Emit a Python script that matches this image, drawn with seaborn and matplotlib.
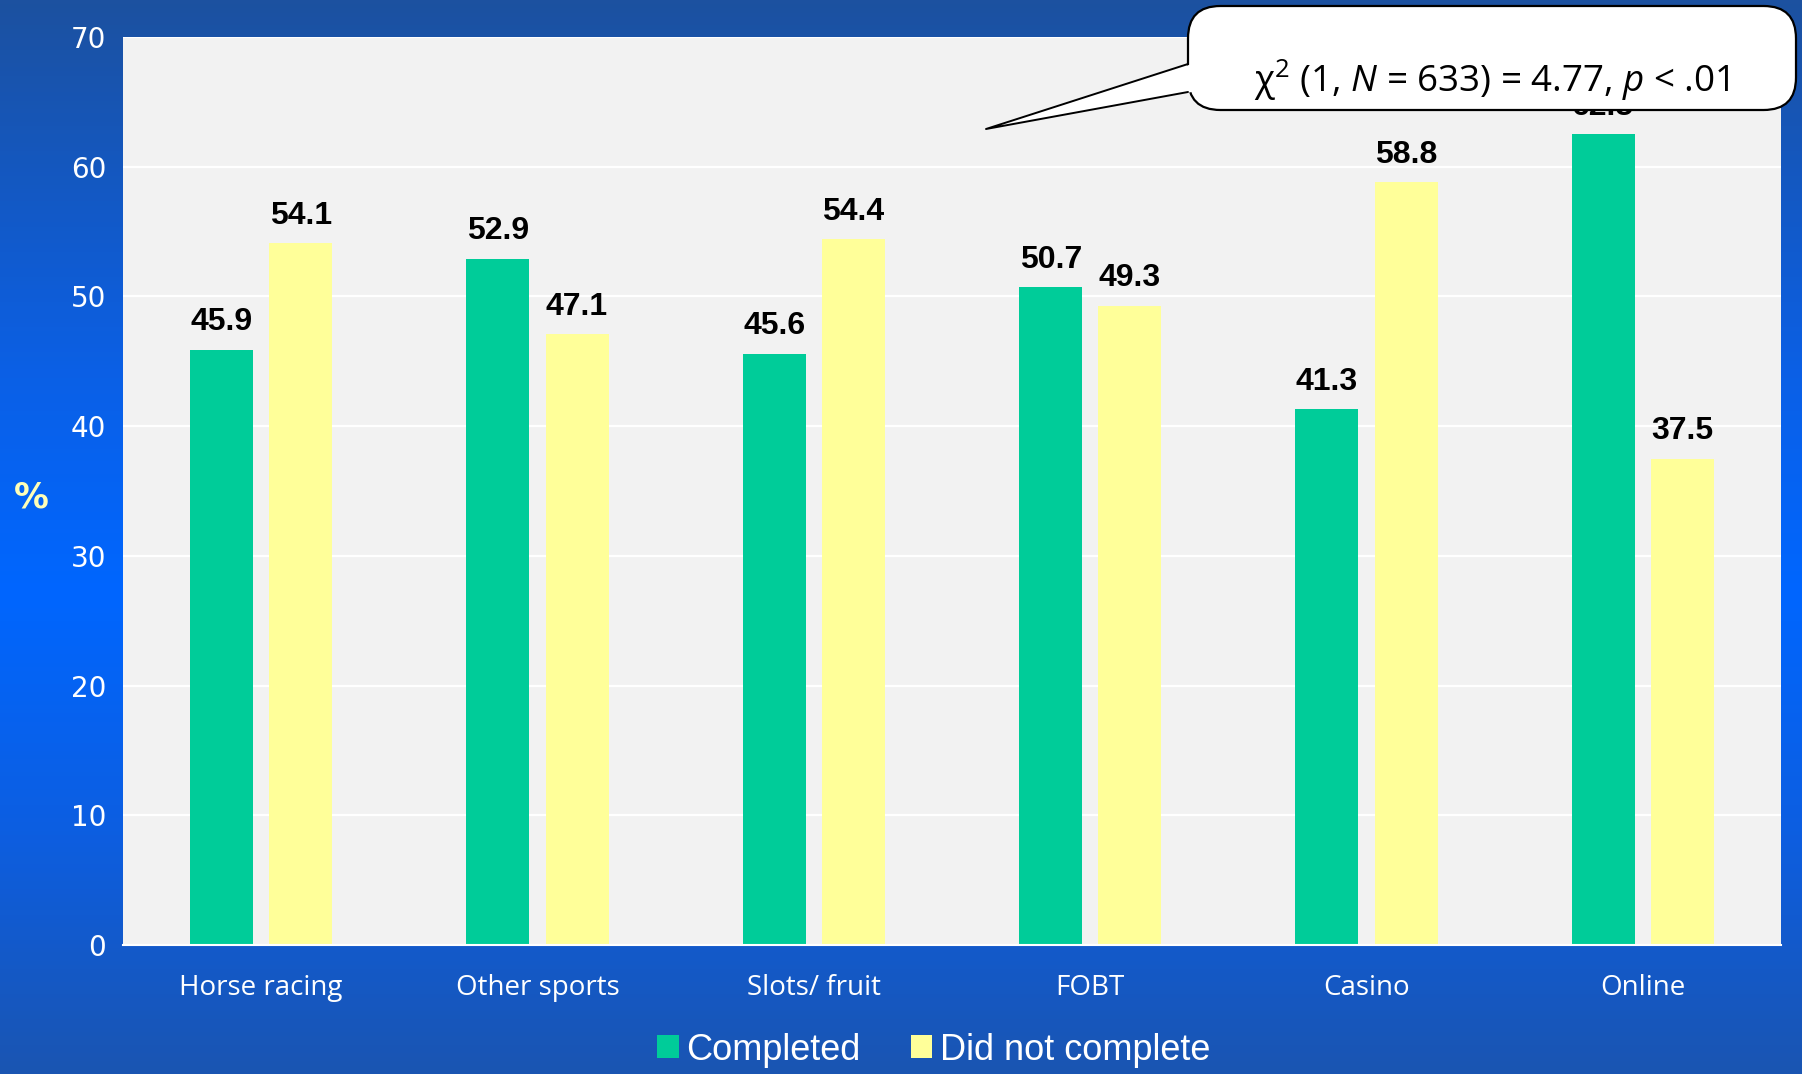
import numpy as np
import pandas as pd
import matplotlib
matplotlib.use("Agg")
import matplotlib.pyplot as plt
import seaborn as sns
from matplotlib.patches import FancyBboxPatch, Polygon, Patch
from matplotlib.lines import Line2D
from matplotlib.colors import LinearSegmentedColormap

categories = ["Horse racing", "Other sports", "Slots/ fruit", "FOBT", "Casino", "Online"]
completed = [45.9, 52.9, 45.6, 50.7, 41.3, 62.5]
not_completed = [54.1, 47.1, 54.4, 49.3, 58.8, 37.5]
series_names = ["Completed", "Did not complete"]
yticks = [0, 10, 20, 30, 40, 50, 60, 70]
callout_text = r"χ$^{2}$ (1, $N$ = 633) = 4.77, $p$ < .01"

sns.set_style("whitegrid", {"axes.facecolor": "#F2F2F2", "grid.color": "white"})
plt.rcParams["mathtext.fontset"] = "custom"
plt.rcParams["mathtext.rm"] = "Open Sans"
plt.rcParams["mathtext.it"] = "Open Sans:italic"
plt.rcParams["font.family"] = ["DejaVu Sans"]

W, H = 1802, 1074
fig = plt.figure(figsize=(W / 100, H / 100), dpi=100)

# background gradient
bg = fig.add_axes([0, 0, 1, 1], zorder=-10)
cmap = LinearSegmentedColormap.from_list(
    "bg", [(0.0, "#1c51a0"), (0.35, "#0b60e6"), (0.55, "#0066ff"),
           (0.78, "#0d5ee0"), (1.0, "#1a55b2")])
grad = np.linspace(0, 1, 256).reshape(-1, 1)
bg.imshow(grad, aspect="auto", cmap=cmap, extent=[0, 1, 0, 1], origin="upper")
bg.axis("off")

ax = fig.add_axes([123 / W, 1 - 945 / H, (1781 - 123) / W, (945 - 37) / H])

df = pd.DataFrame({
    "category": categories * 2,
    "value": completed + not_completed,
    "group": [series_names[0]] * len(categories) + [series_names[1]] * len(categories),
})
palette = {series_names[0]: "#00CC99", series_names[1]: "#FFFF99"}
sns.barplot(data=df, x="category", y="value", hue="group", palette=palette,
            width=0.572, gap=0.203, saturation=1, linewidth=0, legend=False, ax=ax)

ax.set_ylim(0, 70)
ax.set_xlim(-0.5, len(categories) - 0.5)
ax.set_yticks(yticks)
ax.grid(axis="y", color="white", linewidth=1.6)
ax.grid(axis="x", visible=False)
ax.set_axisbelow(True)
for s in ["top", "right", "left"]:
    ax.spines[s].set_visible(False)
ax.spines["bottom"].set_color("white")
ax.spines["bottom"].set_linewidth(1.5)
ax.tick_params(axis="y", colors="white", labelsize=20, length=0, pad=12)
ax.tick_params(axis="x", length=0, pad=21)
for lbl in ax.get_yticklabels():
    lbl.set_color("white")
    lbl.set_fontfamily("DejaVu Sans")
for lbl in ax.get_xticklabels():
    lbl.set_fontfamily("Open Sans")
    lbl.set_fontsize(20)
    lbl.set_color("white")
ax.set_xlabel("")
ax.set_ylabel("%", rotation=0, fontsize=25, fontweight="bold", color="#FFFFB8",
              va="center", ha="center")
ax.yaxis.set_label_coords((31 - 123) / 1658, (945 - 497) / 908)

for cont in ax.containers:
    ax.bar_label(cont, fmt="%.1f", padding=9, fontsize=23, fontweight="bold",
                 family="Liberation Sans", color="black")

# callout
def fx(px):
    return px / W

def fy(py):
    return 1 - py / H

box = FancyBboxPatch((fx(1188), fy(110)), fx(1796) - fx(1188), fy(6) - fy(110),
                     boxstyle="round,pad=0,rounding_size=0.018",
                     transform=fig.transFigure, facecolor="white", edgecolor="black",
                     linewidth=1.6, zorder=10, mutation_aspect=W / H)
fig.patches.append(box)
tip = (fx(986), fy(129))
b1 = (fx(1188), fy(64))
b2 = (fx(1188), fy(92))
tail = Polygon([(fx(1192), fy(64)), tip, (fx(1192), fy(92))], closed=True,
               transform=fig.transFigure, facecolor="white", edgecolor="none", zorder=11)
fig.patches.append(tail)
fig.lines.append(Line2D([b1[0], tip[0], b2[0]], [b1[1], tip[1], b2[1]],
                        transform=fig.transFigure, color="black", linewidth=1.4, zorder=12))
fig.text(fx(1492), fy(80), callout_text, ha="center", va="center", fontsize=26.5,
         family="Open Sans", color="black", zorder=13)

handles = [Patch(facecolor=palette[n], edgecolor="none") for n in series_names]
leg = fig.legend(handles, series_names, loc="center", bbox_to_anchor=(0.518, 1 - 1050 / H),
                 ncol=2, frameon=False, handlelength=0.6, handleheight=0.6, handletextpad=0.2,
                 columnspacing=1.4, prop={"family": "Liberation Sans", "size": 26})
for t in leg.get_texts():
    t.set_color("white")

fig.savefig("out.png", dpi=100)
